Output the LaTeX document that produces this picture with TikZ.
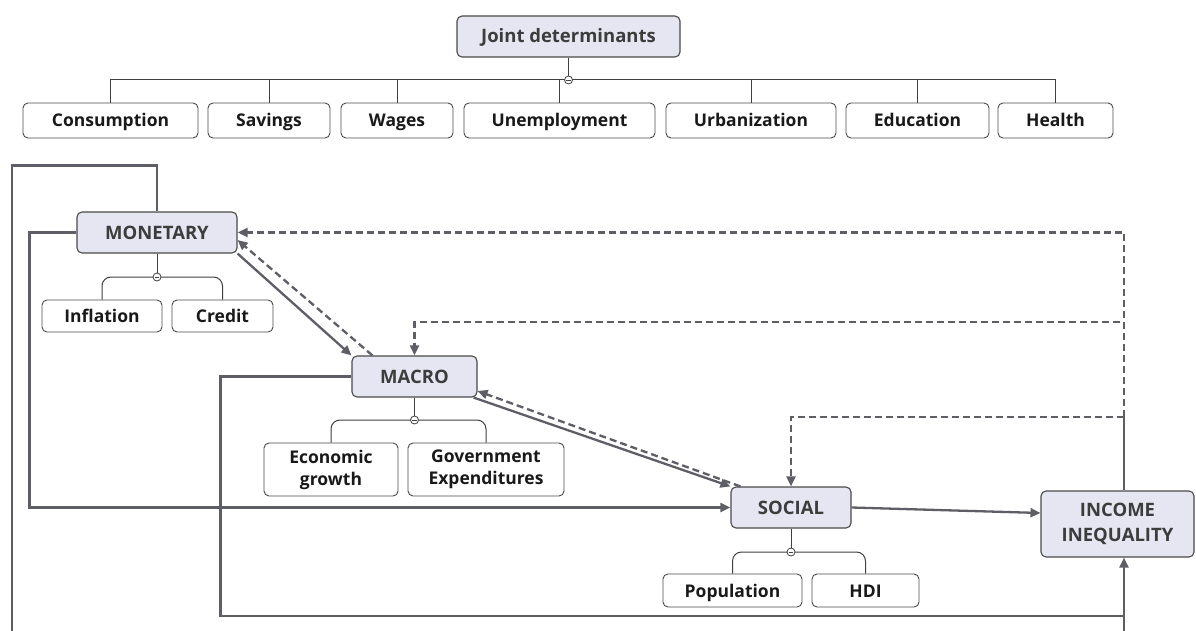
\documentclass[tikz,border=0pt]{standalone}
\usepackage{fontspec}
\setmainfont{Open Sans}
\usetikzlibrary{arrows.meta,calc}
\definecolor{lav}{HTML}{E6E6F2}
\definecolor{edge}{HTML}{5E5E66}
\definecolor{bord}{HTML}{4A4A4A}
\definecolor{mtxt}{HTML}{3C3C3C}

\begin{document}
\begin{tikzpicture}[x=1pt,y=-1pt,
  mainbox/.style={draw=bord, fill=lav, rounded corners=5pt, line width=1.1pt, inner sep=0pt,
    text=mtxt, font=\fontsize{18.5}{25}\selectfont\bfseries, align=center},
  leafbox/.style={draw=bord, fill=white, rounded corners=5pt, line width=0.9pt, inner sep=0pt,
    text=black!90, font=\fontsize{17.5}{22}\selectfont\bfseries, align=center},
  oneline/.style={text height=13pt, text depth=0pt},
  tree/.style={draw=black!75, line width=1pt},
  knob/.style={circle, draw=black!75, fill=white, line width=0.8pt, minimum size=8pt, inner sep=0pt,
    path picture={\draw[line width=0.7pt] ([xshift=1.8pt]path picture bounding box.west) -- ([xshift=-1.8pt]path picture bounding box.east);}},
  plain/.style={draw=edge, line width=2.3pt},
  link/.style={plain, -{Triangle[length=10pt,width=9pt]}},
  back/.style={link, dash pattern=on 7pt off 4pt},
]
\fill[white] (0,0) rectangle (1196,631);
\useasboundingbox (0,0) rectangle (1196,631);

% ---- joint determinants tree ----
\node[mainbox, oneline, minimum width=223pt, minimum height=41pt] (joint) at (568.5,36.5) {Joint determinants};
\node[leafbox, oneline, minimum width=175pt, minimum height=35pt] (cons)  at (110.5,120.5) {Consumption};
\node[leafbox, oneline, minimum width=122pt, minimum height=35pt] (sav)   at (269,120.5)   {Savings};
\node[leafbox, oneline, minimum width=112pt, minimum height=35pt] (wag)   at (397,120.5)   {Wages};
\node[leafbox, oneline, minimum width=191pt, minimum height=35pt] (unemp) at (559.5,120.5) {Unemployment};
\node[leafbox, oneline, minimum width=170pt, minimum height=35pt] (urb)   at (751,120.5)   {Urbanization};
\node[leafbox, oneline, minimum width=143pt, minimum height=35pt] (edu)   at (917.5,120.5) {Education};
\node[leafbox, oneline, minimum width=115pt, minimum height=35pt] (hea)   at (1055.5,120.5){Health};

% ---- factor groups ----
\node[mainbox, oneline, minimum width=160pt, minimum height=41pt] (monetary) at (157,232.5) {MONETARY};
\node[leafbox, oneline, minimum width=120pt, minimum height=32pt] (infl)   at (102,316)   {Inflation};
\node[leafbox, oneline, minimum width=101pt, minimum height=32pt] (credit) at (222.5,316) {Credit};

\node[mainbox, oneline, minimum width=125pt, minimum height=41pt] (macro) at (414.5,376.5) {MACRO};
\node[leafbox, minimum width=134pt, minimum height=53pt] (econ) at (331,469.5) {Economic\\growth};
\node[leafbox, minimum width=156pt, minimum height=53pt] (gov)  at (486,469.5) {Government\\Expenditures};

\node[mainbox, oneline, minimum width=120pt, minimum height=41pt] (social) at (791,507.5) {SOCIAL};
\node[leafbox, oneline, minimum width=139pt, minimum height=33pt] (pop) at (732.5,590.5) {Population};
\node[leafbox, oneline, minimum width=107pt, minimum height=33pt] (hdi) at (865.5,590.5) {HDI};

\node[mainbox, minimum width=153pt, minimum height=66pt] (income) at (1117.5,524) {INCOME\\INEQUALITY};

% ---- branch points ----
\coordinate (jk) at (568.5,80);
\coordinate (mk) at (157,277);
\coordinate (ak) at (414.5,420);
\coordinate (sk) at (791,552);

\draw[tree] (joint.south) -- (jk);
\draw[tree] (cons.north) |- (hea.north |- jk) -- (hea.north);
\foreach \n in {sav,wag,unemp,urb,edu}{\draw[tree] (\n.north) -- (\n.north |- jk);}

\draw[tree] (monetary.south) -- (mk);
\draw[tree, rounded corners=9pt] (infl.north) |- (credit.north |- mk) -- (credit.north);
\draw[tree] (macro.south) -- (ak);
\draw[tree, rounded corners=9pt] (econ.north) |- (gov.north |- ak) -- (gov.north);
\draw[tree] (social.south) -- (sk);
\draw[tree, rounded corners=9pt] (pop.north) |- (hdi.north |- sk) -- (hdi.north);

\node[knob] at (jk) {};
\node[knob] at (mk) {};
\node[knob] at (ak) {};
\node[knob] at (sk) {};

% ---- influence connectors ----
\coordinate (lowL) at (12,631);
\coordinate (lowR) at (1124,631);
\coordinate (inB) at ($(income.south)+(6.5,0)$);
\coordinate (inT) at ($(income.north)+(6.5,0)$);
\coordinate (fork) at (1124,417);

\draw[plain] (monetary.north) -- ++(0,-46) -| (lowL);
\draw[link] (monetary.west) -- ++(-47,0) |- (social.west);
\draw[link] (macro.west) -- ++(-131,0) -- ++(0,239.5) -| (inB);
\draw[plain] (lowR) -- ++(0,-16);
\draw[link] (social.east) -- ($(income.west)+(0,-11)$);

\draw[link] (monetary.south east) -- (macro.north west);
\draw[back] ($(macro.north west)+(21,0)$) -- ($(monetary.east)+(0,7.5)$);
\draw[link] ($(macro.south east)+(-4,0)$) -- (social.north west);
\draw[back] ($(social.north west)+(10,0)$) -- ($(macro.east)+(0,14.5)$);

\draw[plain] (inT) -- (fork);
\draw[back] (fork) -| (social.north);
\draw[back] (fork) -- ++(0,-95) -| (macro.north);
\draw[back] (fork) |- (monetary.east);
\end{tikzpicture}
\end{document}
